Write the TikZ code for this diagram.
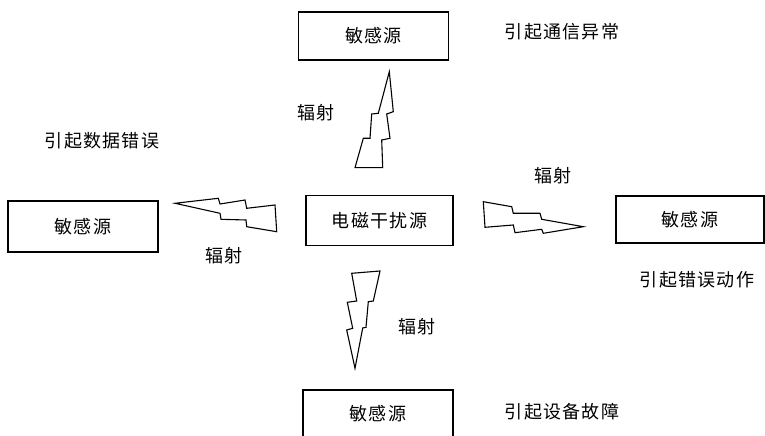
\documentclass[tikz,border=0pt]{standalone}
\usepackage{fontspec}
\newfontfamily\cjk[LetterSpace=7]{Noto Sans CJK SC}
\begin{document}
\begin{tikzpicture}[x=1bp,y=-1bp,
  box/.style={draw=black,line width=1.3bp,minimum width=150bp,minimum height=48bp,inner sep=0pt,font=\cjk\fontsize{18bp}{21bp}\selectfont},
  lab/.style={inner sep=0pt,font=\cjk\fontsize{18bp}{21bp}\selectfont},
  bolt/.style={draw=black,line width=1.1bp,line join=miter}]
\clip (0,0) rectangle (765,436);
\fill[white] (0,0) rectangle (765,436);
% boxes
\node[box] (top) at (373.5,36) {敏感源};
\node[box] (bot) at (378,414) {敏感源};
\node[box,minimum height=51bp] (left) at (83,226.5) {敏感源};
\node[box,minimum width=147bp,minimum height=50bp] (center) at (379.5,220.5) {电磁干扰源};
\node[box,minimum width=148bp,minimum height=47bp] (right) at (690,219.5) {敏感源};
% labels
\node[lab] (ltop) at (562,32) {引起通信异常};
\node[lab] (lleft) at (102,141) {引起数据错误};
\node[lab] (lright) at (697,280) {引起错误动作};
\node[lab] (lbot) at (562,412) {引起设备故障};
\node[lab] (rtop) at (316,113) {辐射};
\node[lab] (rright) at (553,176) {辐射};
\node[lab] (rleft) at (224,256) {辐射};
\node[lab] (rbot) at (417,327) {辐射};
% bolts
\draw[bolt] (389.3,71.7) -- (393.3,111.7) -- (386.7,114) -- (390,138.3) -- (381.7,140) -- (382.7,167.7)
  -- (355,167.7) -- (363.3,138.3) -- (370,138.3) -- (371.7,114) -- (378.3,113.3) -- cycle;
\draw[bolt] (351.7,273.3) -- (380,271) -- (373.3,301) -- (368.3,301.7) -- (366,327.3) -- (362.7,328) -- (355,368.3)
  -- (346.7,330) -- (352.7,328.3) -- (347.3,302.3) -- (356.7,301) -- cycle;
\draw[bolt] (175,203.3) -- (218.3,198.3) -- (220,204) -- (245,200) -- (246.7,208.3) -- (275,205) -- (276.7,231.7)
  -- (246.7,226.7) -- (246,220) -- (221,219.3) -- (220,213.3) -- cycle;
\draw[bolt] (483.3,201.7) -- (511.7,206.7) -- (513.3,213.3) -- (540,213.3) -- (541.7,219.3) -- (583.3,226.7)
  -- (543.3,233.3) -- (541.7,229.3) -- (515,232.7) -- (513.3,225) -- (485,227.3) -- cycle;
\end{tikzpicture}
\end{document}
